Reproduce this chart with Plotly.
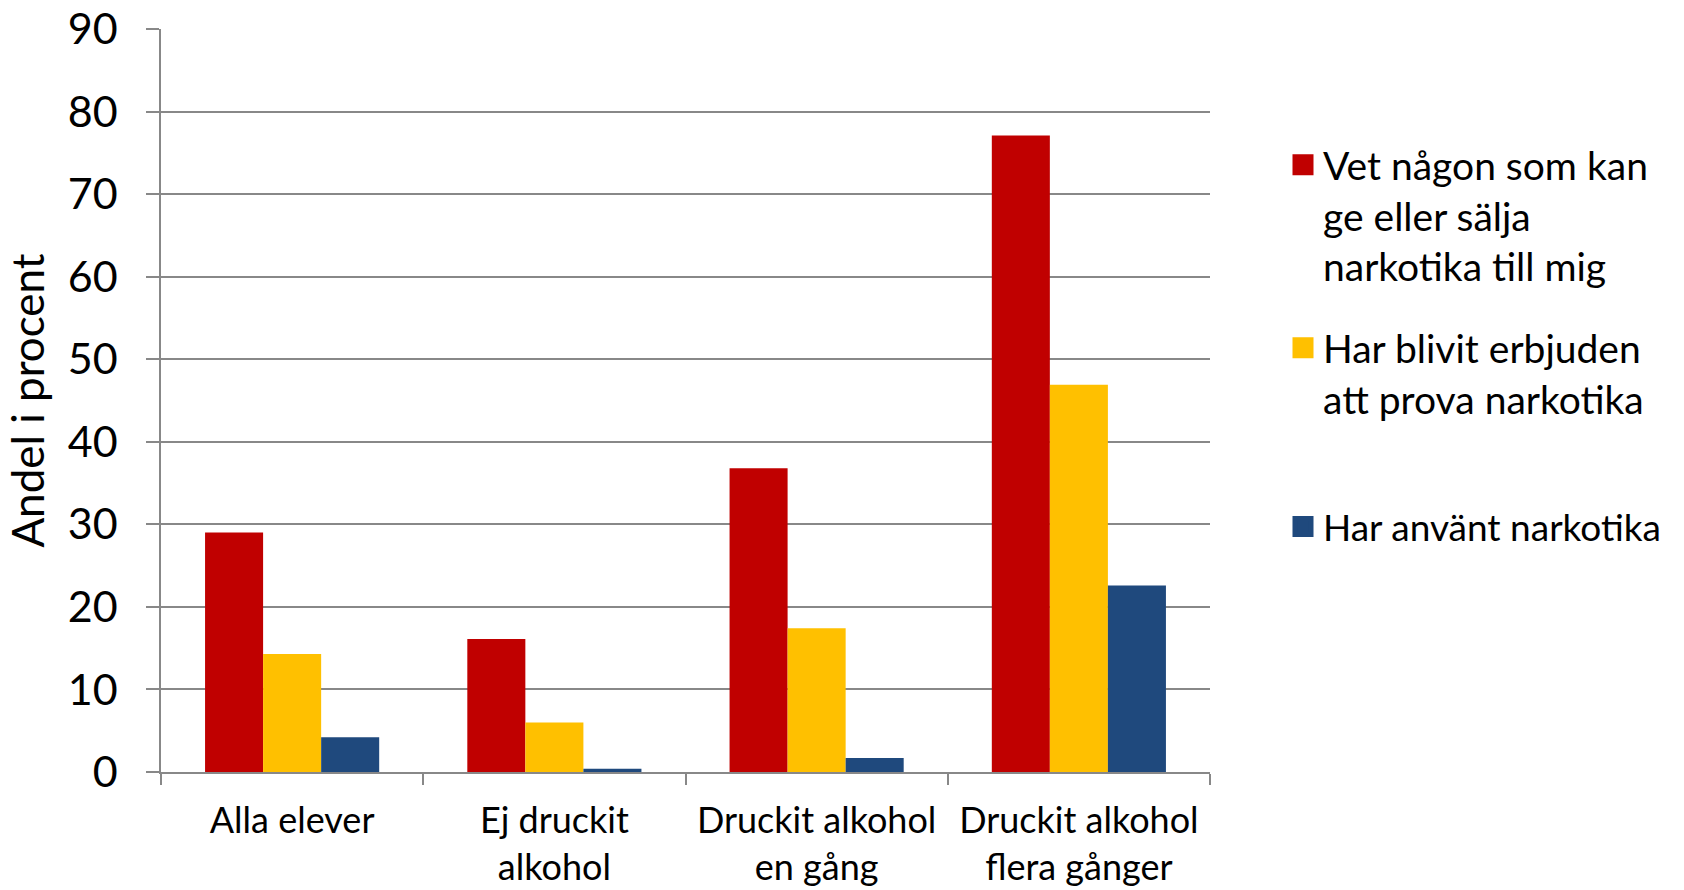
import plotly.graph_objects as go

categories = ["Alla elever", "Ej druckit<br>alkohol", "Druckit alkohol<br>en gång", "Druckit alkohol<br>flera gånger"]
series_names = ["Vet någon som kan<br>ge eller sälja<br>narkotika till mig",
                "Har blivit erbjuden<br>att prova narkotika",
                "Har använt narkotika"]
vet_nagon = [29.0, 16.1, 36.8, 77.1]
erbjuden = [14.3, 6.0, 17.4, 46.9]
anvant = [4.2, 0.4, 1.7, 22.6]
colors = ["#C00000", "#FFC000", "#1F497D"]
y_ticks = [0, 10, 20, 30, 40, 50, 60, 70, 80, 90]

FONT = "Lato"
W, H = 1684, 890
L, R, T, B = 161, 1210, 29, 772

fig = go.Figure()
for vals, c in zip([vet_nagon, erbjuden, anvant], colors):
    fig.add_trace(go.Bar(x=categories, y=vals, marker=dict(color=c, line=dict(width=0)),
                         showlegend=False, hoverinfo="y"))

legend_names = ["legend", "legend2", "legend3"]
legend_lines = [166, 349, 529]  # first-line centre (px)
legend_sizes = [39, 39, 37]
for name, c, lg in zip(series_names, colors, legend_names):
    fig.add_trace(go.Scatter(x=[None], y=[None], mode="markers", name=name, legend=lg,
                             marker=dict(symbol="square", size=16, color=c,
                                         line=dict(color=c, width=5))))

def px2paper_x(px):
    return (px - L) / (R - L)

def px2paper_y(py):
    return (B - py) / (B - T)

layout_legends = {}
for lg, cy, fs in zip(legend_names, legend_lines, legend_sizes):
    layout_legends[lg] = dict(bgcolor="rgba(0,0,0,0)", borderwidth=0,
                              font=dict(family=FONT, size=fs, color="#000000"),
                              xanchor="left", yanchor="top", valign="top", itemsizing="trace",
                              x=px2paper_x(1283), y=px2paper_y(cy - 33))

fig.update_layout(
    width=W, height=H,
    margin=dict(l=L, r=W - R, t=T, b=H - B, pad=0),
    paper_bgcolor="white", plot_bgcolor="white",
    barmode="group", bargap=0.336, bargroupgap=0,
    font=dict(family=FONT, color="#000000"),
    xaxis=dict(type="category", tickson="boundaries", ticks="outside", ticklen=11,
               tickcolor="#888888", tickwidth=1.5, showline=True, linecolor="#888888", linewidth=1.5,
               showgrid=False, tickfont=dict(family=FONT, size=36, color="#000000"),
               ticklabelstandoff=16, automargin=False),
    yaxis=dict(range=[0, 90], tickvals=y_ticks, ticktext=[str(v) for v in y_ticks],
               showgrid=True, gridcolor="#888888", gridwidth=1.5,
               ticks="outside", ticklen=13, tickcolor="#888888", tickwidth=1.5,
               showline=True, linecolor="#888888", linewidth=1.5, zeroline=False,
               tickfont=dict(family=FONT, size=43, color="#000000"), ticklabelstandoff=20,
               ticklabeloverflow="allow", automargin=False,
               title=dict(text="Andel i procent", font=dict(family=FONT, size=44, color="#000000"), standoff=9)),
    **layout_legends,
)

fig.write_html("out.html", config={"displayModeBar": False},
               post_script="document.body.style.margin='0';document.body.style.overflow='hidden';")
